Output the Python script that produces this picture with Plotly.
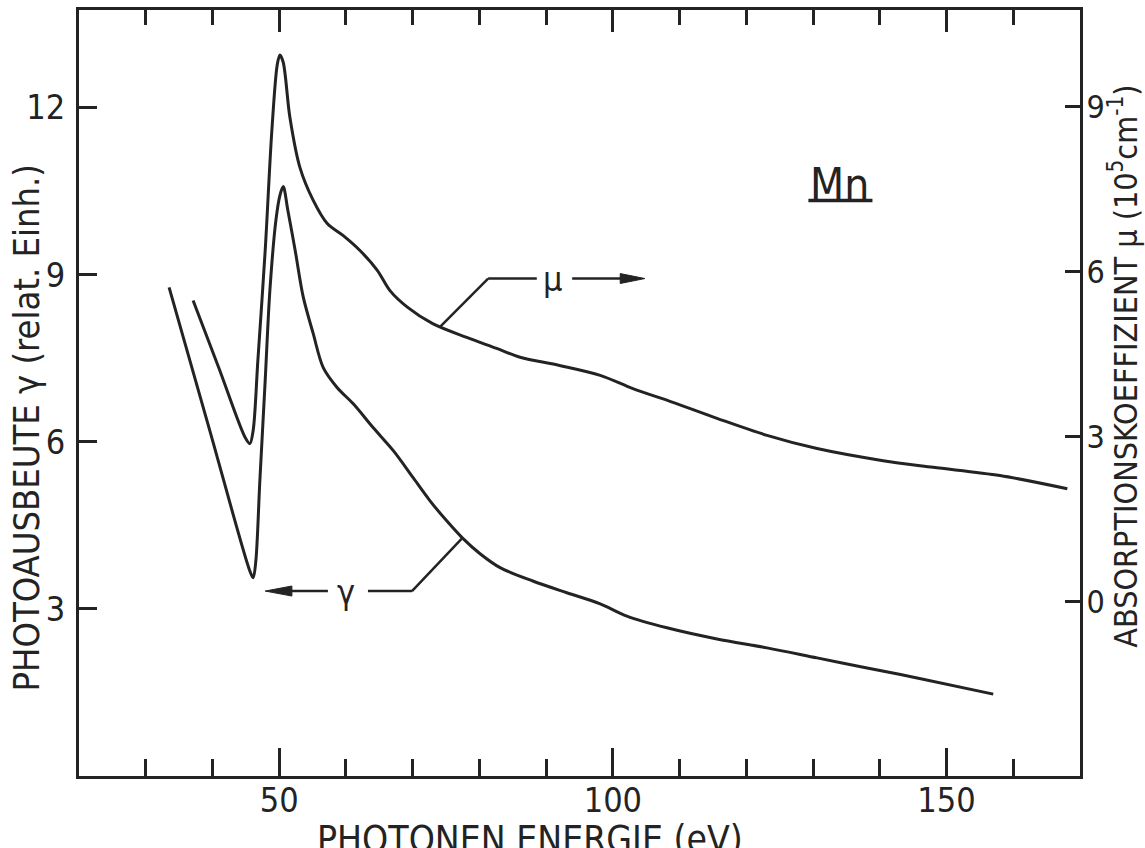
import plotly.graph_objects as go

# ---------------- data ----------------
gamma_E = [33.5, 39.6, 45.6, 46.1, 46.5, 47.1, 47.9, 48.6, 49.5, 50.1, 50.6, 51.3,
           52.4, 53.6, 55.1, 56.6, 58.7, 61.1, 64.1, 67.1, 70.1, 72.6, 75.1, 77.4,
           80.1, 83.1, 88.0, 93.1, 98.1, 102.1, 108.1, 115.6, 123.1, 130.6, 138.1,
           145.6, 157.0]
gamma_Y = [8.77, 6.20, 3.68, 3.56, 3.86, 5.30, 7.10, 8.71, 9.97, 10.42, 10.58, 10.15,
           9.43, 8.60, 7.94, 7.33, 6.97, 6.68, 6.25, 5.84, 5.35, 4.94, 4.58, 4.28,
           3.99, 3.74, 3.50, 3.29, 3.09, 2.87, 2.66, 2.46, 2.30, 2.12, 1.94,
           1.76, 1.47]

mu_E = [37.1, 41.0, 44.9, 45.6, 46.1, 46.8, 47.9, 48.9, 49.7, 50.1, 50.6, 51.6,
        53.1, 55.1, 57.2, 59.6, 62.1, 64.7, 66.6, 69.2, 73.0, 78.1, 82.6, 86.1,
        92.0, 98.1, 103.0, 109.0, 115.6, 123.1, 130.6, 140.5, 148.0, 158.0, 168.1]
mu_Y = [5.47, 4.23, 2.98, 2.87, 3.11, 4.38, 6.38, 8.56, 9.75, 9.93, 9.80, 8.80,
        7.89, 7.29, 6.87, 6.65, 6.38, 6.02, 5.65, 5.35, 5.05, 4.80, 4.60, 4.44,
        4.29, 4.11, 3.87, 3.62, 3.33, 3.02, 2.78, 2.56, 2.44, 2.29, 2.05]

x_ticks = [50, 100, 150]
y_left_ticks = [3, 6, 9, 12]
y_right_ticks = [0, 3, 6, 9]

# ---------------- styling ----------------
INK = "#232323"
FONT = "Liberation Sans Narrow, DejaVu Sans Condensed, Liberation Sans, sans-serif"
X_RANGE = [20, 170]
YL_RANGE = [0, 13.75]
YR_RANGE = [-3.17, 10.75]

fig = go.Figure()
fig.add_trace(go.Scatter(x=gamma_E, y=gamma_Y, mode="lines", xaxis="x", yaxis="y",
                         line=dict(color=INK, width=3, shape="spline", smoothing=0.9),
                         hoverinfo="skip", showlegend=False))
fig.add_trace(go.Scatter(x=mu_E, y=mu_Y, mode="lines", xaxis="x", yaxis="y2",
                         line=dict(color=INK, width=3, shape="spline", smoothing=0.9),
                         hoverinfo="skip", showlegend=False))
# carrier for the top axis (invisible)
fig.add_trace(go.Scatter(x=gamma_E, y=gamma_Y, mode="lines", xaxis="x2", yaxis="y",
                         line=dict(color="rgba(0,0,0,0)", width=0),
                         hoverinfo="skip", showlegend=False))

tickfont = dict(family=FONT, size=34, color=INK)
tickfont_r = dict(family=FONT, size=32, color=INK)

fig.update_layout(
    width=1145, height=848,
    margin=dict(l=79, r=65, t=10, b=72, autoexpand=False),
    paper_bgcolor="white", plot_bgcolor="white",
    xaxis=dict(range=X_RANGE, tickvals=x_ticks, ticks="inside", ticklen=28, tickwidth=2.5,
               tickcolor=INK, showline=True, linecolor=INK, linewidth=3, mirror=False,
               showgrid=False, zeroline=False, tickfont=tickfont, ticklabelstandoff=-8,
               minor=dict(dtick=10, tick0=0, ticks="inside", ticklen=17, tickwidth=2.5,
                          tickcolor=INK, showgrid=False)),
    xaxis2=dict(range=X_RANGE, overlaying="x", side="top", anchor="y",
                tickvals=x_ticks, ticks="inside", ticklen=22, tickwidth=2.5, tickcolor=INK,
                showline=True, linecolor=INK, linewidth=3, showgrid=False, zeroline=False,
                showticklabels=False,
                minor=dict(dtick=10, tick0=0, ticks="inside", ticklen=15, tickwidth=2.5,
                           tickcolor=INK, showgrid=False)),
    yaxis=dict(range=YL_RANGE, tickvals=y_left_ticks, ticks="inside", ticklen=18,
               tickwidth=2.5, tickcolor=INK, showline=True, linecolor=INK, linewidth=3,
               showgrid=False, zeroline=False, tickfont=tickfont, ticklabelstandoff=4),
    yaxis2=dict(range=YR_RANGE, tickvals=y_right_ticks, overlaying="y", side="right",
                anchor="x", ticks="inside", ticklen=15, tickwidth=2.5, tickcolor=INK,
                showline=True, linecolor=INK, linewidth=3, showgrid=False,
                zeroline=False, tickfont=tickfont_r, ticklabelstandoff=-3),
)

# ---------------- axis titles (paper coordinates) ----------------
fig.add_annotation(xref="paper", yref="paper", x=-0.052, y=0.455, textangle=-90,
                   text="PHOTOAUSBEUTE γ (relat. Einh.)", showarrow=False,
                   font=dict(family=FONT, size=36, color=INK),
                   xanchor="center", yanchor="middle")
fig.add_annotation(xref="paper", yref="paper", x=1.0435, y=0.535, textangle=-90,
                   text="ABSORPTIONSKOEFFIZIENT μ (10<sup>5</sup>cm<sup>-1</sup>)",
                   showarrow=False, font=dict(family=FONT, size=32, color=INK),
                   xanchor="center", yanchor="middle")
fig.add_annotation(xref="paper", yref="paper", x=0.451, y=-0.052,
                   text="PHOTONEN ENERGIE (eV)", showarrow=False,
                   font=dict(family=FONT, size=37, color=INK),
                   xanchor="center", yanchor="top")

# ---------------- "Mn" label ----------------
fig.add_annotation(xref="x", yref="y", x=134.0, y=10.62, text="Mn", showarrow=False,
                   font=dict(family=FONT, size=44, color=INK))
fig.add_shape(type="line", xref="x", yref="y", x0=129.3, x1=138.9, y0=10.33, y1=10.33,
              line=dict(color=INK, width=3.5))

# ---------------- μ annotation (right axis) ----------------
lw = dict(color=INK, width=2.5)
fig.add_shape(type="line", xref="x", yref="y2", x0=74.1, y0=4.99, x1=81.3, y1=5.87, line=lw)
fig.add_shape(type="line", xref="x", yref="y2", x0=81.3, y0=5.87, x1=88.6, y1=5.87, line=lw)
fig.add_annotation(xref="x", yref="y2", x=90.9, y=5.87, text="μ", showarrow=False,
                   font=dict(family=FONT, size=34, color=INK))
fig.add_shape(type="line", xref="x", yref="y2", x0=93.9, y0=5.87, x1=101.5, y1=5.87, line=lw)
fig.add_shape(type="path", xref="x", yref="y2",
              path="M 101.1 5.96 L 104.8 5.87 L 101.1 5.78 Z",
              fillcolor=INK, line=dict(color=INK, width=1))

# ---------------- γ annotation (left axis) ----------------
fig.add_shape(type="line", xref="x", yref="y", x0=77.5, y0=4.28, x1=69.9, y1=3.32, line=lw)
fig.add_shape(type="line", xref="x", yref="y", x0=69.9, y0=3.32, x1=63.3, y1=3.32, line=lw)
fig.add_annotation(xref="x", yref="y", x=60.0, y=3.30, text="γ", showarrow=False,
                   font=dict(family=FONT, size=34, color=INK))
fig.add_shape(type="line", xref="x", yref="y", x0=57.3, y0=3.32, x1=51.5, y1=3.32, line=lw)
fig.add_shape(type="path", xref="x", yref="y",
              path="M 51.9 3.41 L 47.9 3.32 L 51.9 3.23 Z",
              fillcolor=INK, line=dict(color=INK, width=1))

fig.write_html("out.html")
